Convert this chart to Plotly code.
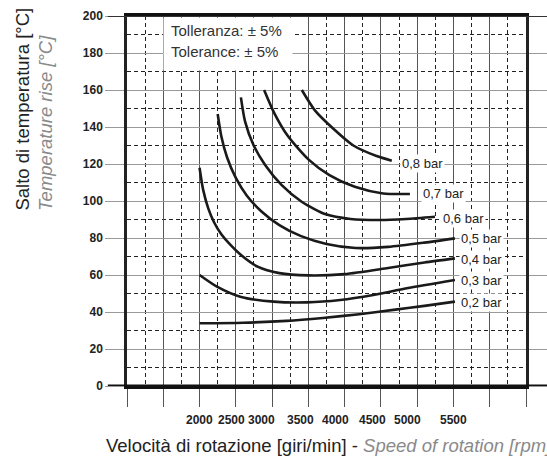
import plotly.graph_objects as go

FONT = "Liberation Sans, Arial, sans-serif"

# ---- data ----
pressures = ["0,2 bar", "0,3 bar", "0,4 bar", "0,5 bar", "0,6 bar", "0,7 bar", "0,8 bar"]

x_02 = [2000, 2600, 3200, 3700, 4200, 4700, 5100, 5520]
y_02 = [33.9, 34.2, 35.2, 36.8, 38.8, 41.3, 43.3, 45.6]

x_03 = [2000, 2240, 2560, 3020, 3480, 3940, 4395, 4855, 5520]
y_03 = [60.0, 53.7, 48.3, 45.6, 45.2, 46.5, 49.2, 52.8, 57.3]

x_04 = [2000, 2050, 2120, 2200, 2300, 2420, 2580, 2800, 3100, 3500, 4000, 4600, 5100, 5520]
y_04 = [118.0, 106.0, 96.0, 88.5, 82.0, 76.5, 70.5, 64.5, 61.0, 59.8, 60.5, 63.8, 66.8, 69.0]

x_05 = [2250, 2300, 2380, 2500, 2650, 2850, 3100, 3400, 3750, 4150, 4600, 5100, 5520]
y_05 = [147.0, 135.0, 123.5, 112.5, 103.0, 94.5, 87.0, 81.0, 76.8, 74.6, 75.2, 77.5, 79.8]

x_06 = [2570, 2628, 2743, 2904, 3133, 3408, 3740, 4080, 4490, 4850, 5245]
y_06 = [156.0, 142.9, 130.3, 119.5, 108.6, 99.6, 92.8, 90.3, 89.7, 90.3, 91.5]

x_07 = [2890, 3030, 3210, 3500, 3790, 4140, 4530, 4900]
y_07 = [160.0, 147.5, 135.5, 122.5, 114.0, 107.7, 104.1, 103.8]

x_08 = [3410, 3590, 3860, 4120, 4440, 4650]
y_08 = [160.0, 149.0, 138.5, 130.0, 124.3, 121.8]

series_x = [x_02, x_03, x_04, x_05, x_06, x_07, x_08]
series_y = [y_02, y_03, y_04, y_05, y_06, y_07, y_08]

# label anchor positions (data units) for each curve label
label_x = [5580, 5580, 5580, 5580, 5330, 5055, 4765]
label_y = [44.9, 56.9, 68.6, 79.5, 90.8, 104.3, 120.5]

# x tick labels as printed (slightly offset in the original)
x_tick_labels = ["2000", "2500", "3000", "3500", "4000", "4500", "5000", "5500"]
x_tick_pos = [2000, 2440, 2855, 3385, 3880, 4380, 4870, 5505]

y_ticks = [0, 20, 40, 60, 80, 100, 120, 140, 160, 180, 200]

x_range = [1000, 6500]
y_range = [0, 200]

fig = go.Figure()
for xs, ys, name in zip(series_x, series_y, pressures):
    fig.add_trace(go.Scatter(
        x=xs, y=ys, mode="lines", name=name,
        line=dict(color="#1a1a1a", width=2.6, shape="spline", smoothing=0.7),
        showlegend=False, hoverinfo="skip",
    ))

fig.update_layout(
    width=547, height=463,
    margin=dict(l=127, r=21, t=16, b=77, autoexpand=False),
    paper_bgcolor="white", plot_bgcolor="white",
    font=dict(family=FONT, color="#222"),
    xaxis=dict(
        range=x_range, tick0=1000, dtick=500, automargin=False,
        showgrid=True, gridcolor="#555", gridwidth=1.3,
        minor=dict(dtick=250, tick0=1000, showgrid=True, gridcolor="#222",
                   griddash="4px,3px", gridwidth=1),
        ticks="outside", ticklen=18, tickcolor="#555", tickwidth=1.3,
        showticklabels=False,
        showline=True, linecolor="#111", linewidth=3, mirror=True,
        zeroline=False,
    ),
    yaxis=dict(
        range=y_range, tickvals=y_ticks, automargin=False,
        showgrid=True, gridcolor="#999", gridwidth=1.3,
        minor=dict(dtick=10, tick0=0, showgrid=True, gridcolor="#222",
                   griddash="4px,3px", gridwidth=1),
        ticks="outside", ticklen=19, tickcolor="#999", tickwidth=1.3,
        tickfont=dict(family=FONT, size=12, color="#222", weight="bold"),
        showline=True, linecolor="#222", linewidth=2.5, mirror="ticks",
        zeroline=False,
    ),
)

# bottom and top border extensions (as in original frame)
fig.add_shape(type="line", xref="paper", yref="y", x0=-0.048, x1=1.06, y0=0, y1=0,
              line=dict(color="#111", width=3), layer="above")
fig.add_shape(type="line", xref="paper", yref="y", x0=-0.048, x1=1.06, y0=200, y1=200,
              line=dict(color="#333", width=2), layer="above")

# x tick labels
for t, px in zip(x_tick_labels, x_tick_pos):
    fig.add_annotation(x=px, y=0, xref="x", yref="y", text=t, showarrow=False,
                       xanchor="center", yanchor="middle", yshift=-34,
                       font=dict(family=FONT, size=12, color="#222", weight="bold"))

# curve labels
for t, lx, ly in zip(pressures, label_x, label_y):
    fig.add_annotation(x=lx, y=ly, xref="x", yref="y", text=t, showarrow=False,
                       xanchor="left", yanchor="middle", bgcolor="white",
                       borderpad=1, font=dict(family=FONT, size=13, color="#222"))

# tolerance box
fig.add_annotation(x=0.0902, y=0.997, xref="paper", yref="paper", text=" ",
                   showarrow=False, xanchor="left", yanchor="top",
                   width=128, height=52, bgcolor="white", borderpad=0)
fig.add_annotation(x=0.1078, y=0.962, xref="paper", yref="paper",
                   text="Tolleranza: ± 5%", showarrow=False, xanchor="left", yanchor="middle",
                   borderpad=0, font=dict(family=FONT, size=15, color="#333"))
fig.add_annotation(x=0.1078, y=0.903, xref="paper", yref="paper",
                   text="Tolerance: ± 5%", showarrow=False, xanchor="left", yanchor="middle",
                   borderpad=0, font=dict(family=FONT, size=15, color="#333"))

# axis titles
fig.add_annotation(x=-0.263, y=0.4676, xref="paper", yref="paper",
                   text="Salto di temperatura [°C]", textangle=-90, showarrow=False,
                   xanchor="center", yanchor="bottom",
                   font=dict(family=FONT, size=18.5, color="#222"))
fig.add_annotation(x=-0.203, y=0.4676, xref="paper", yref="paper",
                   text="<i>Temperature rise [°C]</i>", textangle=-90, showarrow=False,
                   xanchor="center", yanchor="bottom",
                   font=dict(family=FONT, size=18.5, color="#8a8a8a"))
fig.add_annotation(x=-0.058, y=-0.162, xref="paper", yref="paper",
                   text="Velocità di rotazione [giri/min] - "
                        "<span style='color:#8a8a8a'><i>Speed of rotation [rpm]</i></span>",
                   showarrow=False, xanchor="left", yanchor="middle",
                   font=dict(family=FONT, size=18.5, color="#222"))

fig.write_html(
    "out.html",
    config={"displayModeBar": False},
    post_script="document.body.style.margin='0';document.body.style.overflow='hidden';",
)
